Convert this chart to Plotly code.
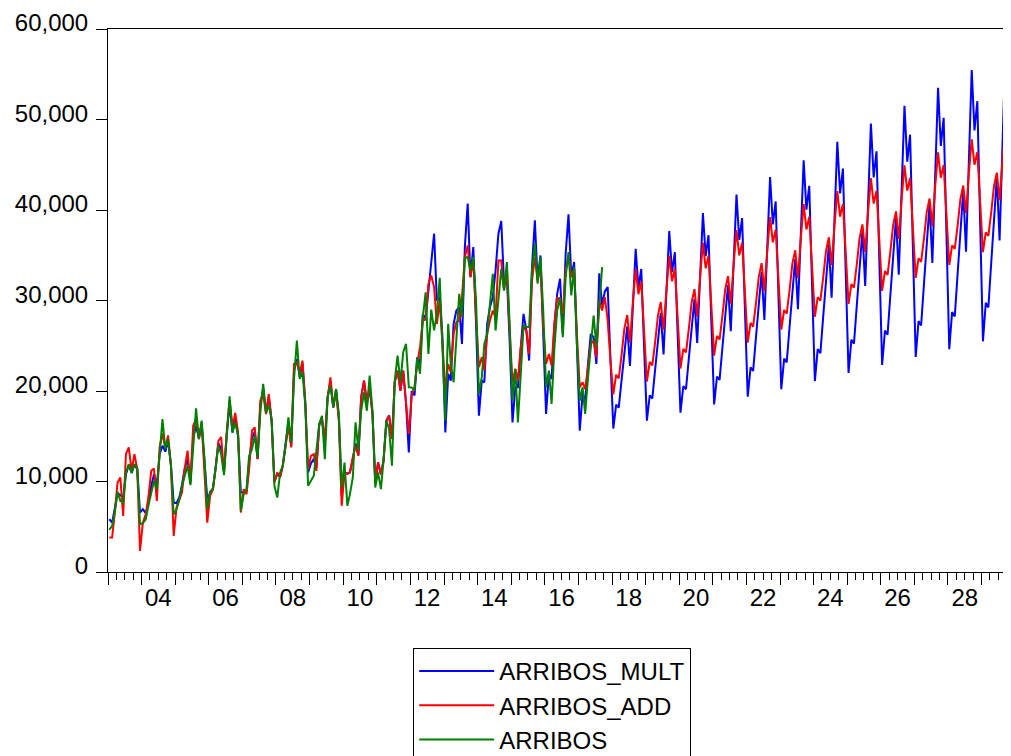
import pandas as pd
import plotly.graph_objects as go

START = "2003-01-01"

# Actual series (monthly, 2003M01 - 2017M09)
arribos = [
    4650, 5090, 6570, 8860, 7860, 7680, 11000, 11920, 10920, 11920, 11440, 5280,
    5390, 5830, 7310, 8780, 10070, 9150, 13210, 16900, 13580, 14690, 11740, 6380,
    6940, 8040, 9520, 10810, 11740, 9590, 13580, 18080, 14690, 16720, 12470, 6940,
    8900, 9150, 11370, 13950, 13030, 10700, 15060, 19410, 15430, 16530, 15060, 6750,
    8600, 9150, 12840, 13580, 15060, 12660, 17640, 20780, 17640, 18380, 16900, 9520,
    8230, 11000, 11740, 13950, 17090, 14320, 21330, 25570, 21330, 22070, 18380, 9520,
    10070, 10630, 13400, 16350, 17270, 12470, 19300, 20590, 18190, 20220, 17460, 9330,
    12100, 7310, 8600, 10440, 16530, 13400, 17820, 19850, 17820, 21700, 17820, 9330,
    11000, 9150, 12290, 16720, 15800, 11740, 21150, 23910, 20960, 24280, 25200, 20410,
    20400, 20040, 23700, 21900, 28100, 30900, 24100, 29000, 26700, 28500, 32500, 25000,
    16720, 27420, 22990, 20960, 25940, 30740, 28150, 34720, 34800, 33320, 34800, 30000,
    19670, 21510, 25200, 26310, 29630, 32950, 26680, 30000, 33510, 31110, 34250, 27420,
    18930, 22440, 16530, 21890, 27230, 27100, 27050, 33320, 36280, 31850, 34800, 28890,
    20410, 22250, 18560, 24830, 28890, 30370, 25940, 32580, 35350, 30550, 33690, 25200,
    18930, 20410, 17460, 21510, 24830, 28340, 24830, 28890, 33690,
]

# Holt-Winters multiplicative fit + forecast (2003M01 - 2029M12)
arribos_mult = [
    5830, 5460, 7000, 8700, 8500, 8200, 10800, 11800, 11000, 11800, 11400, 6570,
    6940, 6500, 7500, 9500, 10800, 9600, 13000, 13950, 13300, 14500, 11900, 7680,
    7600, 8300, 9600, 11500, 12400, 10000, 14800, 16160, 14800, 16300, 12200, 8120,
    8700, 9300, 11500, 14200, 13600, 11100, 15200, 18600, 15400, 17000, 15000, 8780,
    8800, 9000, 12200, 14800, 15500, 12500, 18500, 20300, 17600, 19400, 16700, 10000,
    10800, 10600, 11800, 14200, 16600, 13900, 22200, 23540, 21600, 23100, 18600, 11000,
    12000, 12500, 11500, 16200, 17000, 14000, 19300, 21000, 18200, 20200, 16900, 8500,
    11000, 10900, 11000, 12500, 14200, 12900, 19300, 21150, 18500, 20400, 17500, 10000,
    12100, 10800, 12300, 16700, 17300, 14700, 21000, 22250, 20040, 22250, 18560, 13210,
    20000, 19500, 23700, 23000, 28500, 28000, 31000, 34800, 37380, 30000, 30370, 25940,
    15430, 21890, 21150, 27420, 28890, 29260, 25200, 35900, 40700, 32580, 35900, 27420,
    17270, 21150, 20960, 27420, 29260, 30370, 33320, 37380, 38780, 31850, 32580, 25570,
    16530, 20410, 20410, 24830, 28530, 26680, 23360, 33690, 38860, 32220, 34980, 26310,
    17460, 21890, 21330, 27420, 30740, 32400, 26310, 35170, 39520, 32580, 34250, 25200,
    15610, 19670, 18930, 22990, 26310, 25940, 22990, 33000, 29500, 31000, 31500, 23500,
    15850, 18490, 18170, 21240, 24450, 27130, 22780, 29450, 35700, 31420, 33490, 24990,
    16730, 19510, 19170, 22410, 25800, 28630, 24030, 31080, 37670, 33150, 35330, 26370,
    17610, 20550, 20190, 23600, 27170, 30150, 25310, 32730, 39670, 34910, 37210, 27770,
    18510, 21600, 21230, 24810, 28560, 31690, 26600, 34400, 41700, 36700, 39110, 29190,
    19380, 22610, 22220, 25970, 29900, 33170, 27850, 36010, 43650, 38410, 40940, 30560,
    20200, 23570, 23160, 27070, 31170, 34580, 29030, 37540, 45500, 40040, 42680, 31850,
    21100, 24620, 24190, 28280, 32560, 36120, 30320, 39210, 47530, 41830, 44580, 33270,
    22000, 25670, 25230, 29490, 33950, 37670, 31620, 40890, 49560, 43610, 46490, 34690,
    22870, 26680, 26220, 30650, 35280, 39150, 32860, 42500, 51510, 45330, 48320, 36060,
    23760, 27720, 27240, 31840, 36650, 40670, 34140, 44150, 53510, 47090, 50190, 37460,
    24620, 28730, 28230, 33000, 37990, 42150, 35380, 45750, 55460, 48800, 52020, 38820,
    25490, 29740, 29230, 34160, 39330, 43640, 36630, 47370, 57420, 50530, 53860, 40190,
]

# Holt-Winters additive fit + forecast (2003M01 - 2029M12)
arribos_add = [
    3800, 3800, 6500, 9890, 10440, 6200, 13030, 13760, 11180, 13030, 11400, 2325,
    5460, 6380, 8230, 11180, 11440, 7860, 13800, 15300, 13700, 15100, 11800, 3990,
    7120, 8000, 8780, 11500, 13400, 9800, 16160, 16900, 14690, 16530, 11370, 5460,
    8410, 9150, 11370, 14500, 14900, 11000, 15500, 19000, 16000, 17570, 15430, 6570,
    9150, 8600, 11370, 15610, 15980, 12470, 18930, 19670, 17460, 19670, 16530, 9890,
    11000, 10440, 11740, 14320, 16160, 13760, 22990, 23170, 21890, 23360, 18750, 11370,
    12840, 13030, 11180, 16350, 16900, 14690, 19300, 21510, 18190, 20000, 16720, 7310,
    11000, 10810, 11000, 12660, 13950, 12840, 19300, 21150, 18930, 20410, 17500, 10070,
    12100, 10810, 12290, 16720, 17270, 14690, 21000, 22250, 20040, 22250, 18560, 15240,
    19500, 20500, 22990, 24830, 27790, 27900, 31850, 32770, 31480, 27420, 30000, 25570,
    20040, 22990, 22070, 26310, 27600, 27800, 30370, 34800, 36090, 32580, 34430, 28150,
    22620, 23730, 22250, 26310, 27790, 28890, 28150, 34430, 34430, 31110, 33320, 26680,
    20960, 22440, 21150, 24830, 27050, 26680, 24100, 32220, 34800, 32220, 33880, 27050,
    22990, 24100, 22810, 27420, 30370, 30000, 28530, 33320, 34980, 32580, 33510, 26310,
    20410, 20960, 20220, 22620, 25200, 25570, 23730, 30000, 28890, 30370, 27790, 23360,
    19620, 21800, 21400, 24000, 26900, 28400, 25350, 29700, 33500, 30700, 32100, 26700,
    21050, 23230, 22830, 25430, 28330, 29830, 26780, 31130, 34930, 32130, 33530, 28130,
    22480, 24660, 24260, 26860, 29760, 31260, 28210, 32560, 36360, 33560, 34960, 29560,
    23910, 26090, 25690, 28290, 31190, 32690, 29640, 33990, 37790, 34990, 36390, 30990,
    25340, 27520, 27120, 29720, 32620, 34120, 31070, 35420, 39220, 36420, 37820, 32420,
    26770, 28950, 28550, 31150, 34050, 35550, 32500, 36850, 40650, 37850, 39250, 33850,
    28200, 30380, 29980, 32580, 35480, 36980, 33930, 38280, 42080, 39280, 40680, 35280,
    29630, 31810, 31410, 34010, 36910, 38410, 35360, 39710, 43510, 40710, 42110, 36710,
    31060, 33240, 32840, 35440, 38340, 39840, 36790, 41140, 44940, 42140, 43540, 38140,
    32490, 34670, 34270, 36870, 39770, 41270, 38220, 42570, 46370, 43570, 44970, 39570,
    33920, 36100, 35700, 38300, 41200, 42700, 39650, 44000, 47800, 45000, 46400, 41000,
    35350, 37530, 37130, 39730, 42630, 44130, 41080, 45430, 49230, 46430, 47830, 42430,
]

year_labels = ["04", "06", "08", "10", "12", "14", "16", "18", "20", "22", "24", "26", "28"]
label_years = [2004, 2006, 2008, 2010, 2012, 2014, 2016, 2018, 2020, 2022, 2024, 2026, 2028]
y_ticks = [0, 10000, 20000, 30000, 40000, 50000, 60000]
y_ticktext = ["0", "10,000", "20,000", "30,000", "40,000", "50,000", "60,000"]

dates = pd.date_range(START, periods=len(arribos_mult), freq="MS") + pd.Timedelta(days=14)

FONT = "Liberation Sans, Arial, sans-serif"

fig = go.Figure()
fig.add_trace(go.Scatter(x=dates, y=arribos_mult, mode="lines", name="ARRIBOS_MULT",
                         line=dict(color="#0000FF", width=2)))
fig.add_trace(go.Scatter(x=dates[:len(arribos_add)], y=arribos_add, mode="lines", name="ARRIBOS_ADD",
                         line=dict(color="#FF0000", width=2)))
fig.add_trace(go.Scatter(x=dates[:len(arribos)], y=arribos, mode="lines", name="ARRIBOS",
                         line=dict(color="#008000", width=2)))
# carrier for the label axis
fig.add_trace(go.Scatter(x=[], y=[], xaxis="x2", showlegend=False, hoverinfo="skip"))

x_range = ["2003-01-01", "2029-11-16"]
year_bounds = [f"{y}-01-01" for y in range(2003, 2031)]

# the page body adds an 8px offset, so the figure is sized/margined to compensate
fig.update_layout(
    width=1003, height=748,
    margin=dict(l=100, r=0, t=21, b=184, autoexpand=False),
    paper_bgcolor="white", plot_bgcolor="white",
    font=dict(family=FONT, size=24, color="black"),
    showlegend=True,
    legend=dict(
        x=0.338, y=-0.14, xanchor="left", yanchor="top",
        bordercolor="black", borderwidth=1, bgcolor="white",
        font=dict(family=FONT, size=24, color="black"),
        tracegroupgap=0, itemwidth=75,
    ),
    xaxis=dict(
        type="date", range=x_range, automargin=False,
        tickmode="array", tickvals=year_bounds, ticktext=[""] * len(year_bounds),
        ticks="outside", ticklen=12, tickwidth=1, tickcolor="black",
        minor=dict(dtick="M3", tick0="2003-01-01", ticks="outside", ticklen=7,
                   tickwidth=1, tickcolor="black", showgrid=False),
        showline=True, linecolor="black", linewidth=1, mirror=True,
        showgrid=False, zeroline=False,
    ),
    xaxis2=dict(
        type="date", range=x_range, overlaying="x", anchor="y", side="bottom",
        automargin=False,
        tickmode="array", tickvals=[f"{y}-07-01" for y in label_years], ticktext=year_labels,
        ticks="outside", ticklen=4, tickcolor="rgba(0,0,0,0)",
        showline=False, showgrid=False, zeroline=False,
        tickfont=dict(family=FONT, size=24, color="black"),
    ),
    yaxis=dict(
        range=[0, 60000], tickmode="array", tickvals=y_ticks, ticktext=y_ticktext,
        automargin=False,
        ticks="outside", ticklen=11, tickwidth=1, tickcolor="black",
        showline=True, linecolor="black", linewidth=1,
        showgrid=False, zeroline=False,
        tickfont=dict(family=FONT, size=24, color="black"),
        ticklabelshift=-6, ticklabelstandoff=3,
    ),
)

fig.write_html("out.html")
